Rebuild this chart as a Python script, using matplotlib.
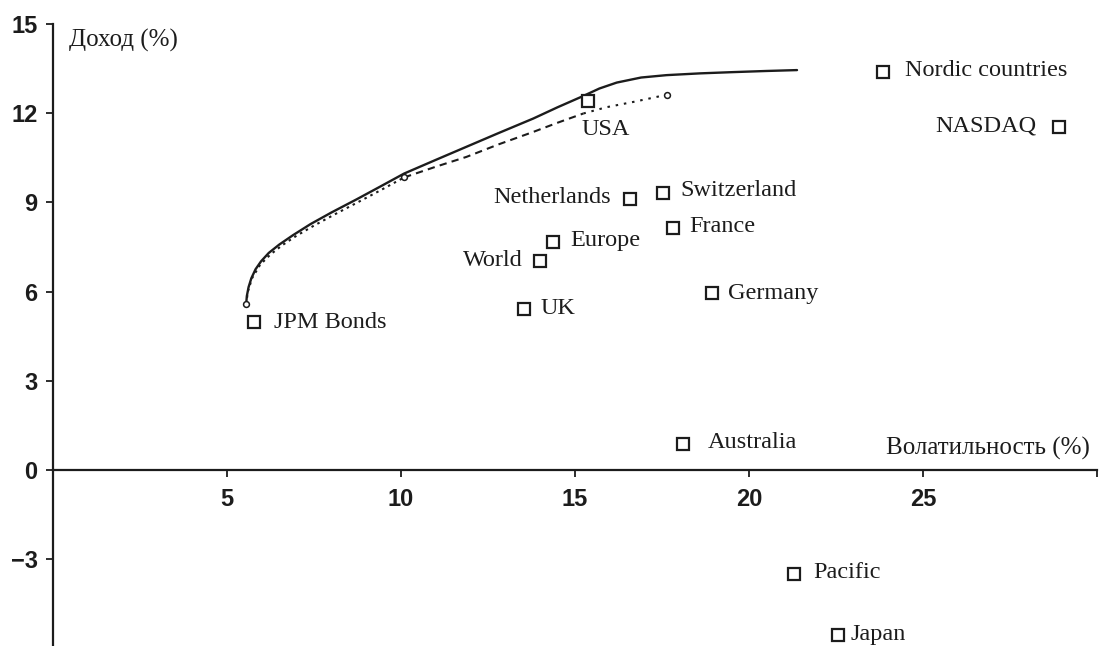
import matplotlib
matplotlib.use("Agg")
import matplotlib.pyplot as plt

# ---- data ----
assets = ["JPM Bonds", "USA", "Netherlands", "Switzerland", "Europe", "World",
          "UK", "France", "Germany", "Nordic countries", "NASDAQ", "Australia",
          "Pacific", "Japan"]
volatility = [5.78, 15.38, 16.58, 17.54, 14.38, 13.99, 13.53, 17.82, 18.93,
              23.86, 28.91, 18.10, 21.30, 22.55]
returns = [4.97, 12.40, 9.12, 9.30, 7.68, 7.03, 5.42, 8.14, 5.94, 13.38,
           11.52, 0.88, -3.50, -5.55]

# efficient frontier (solid)
front_vol = [5.55, 5.57, 5.62, 5.70, 5.82, 5.98, 6.20, 6.50, 6.90, 7.40,
             8.00, 8.72, 9.40, 10.09, 11.00, 11.88, 12.80, 13.80, 14.50,
             15.24, 15.70, 16.20, 16.90, 17.63, 18.60, 19.50, 20.50, 21.38]
front_ret = [5.57, 5.85, 6.15, 6.45, 6.75, 7.02, 7.30, 7.58, 7.90, 8.27,
             8.66, 9.10, 9.53, 9.97, 10.43, 10.87, 11.33, 11.82, 12.20,
             12.58, 12.83, 13.03, 13.20, 13.28, 13.34, 13.38, 13.42, 13.45]

# constrained frontier (dotted / dashed)
con1_vol = [5.55, 5.60, 5.72, 5.95, 6.25, 6.60, 7.00, 7.50, 8.10, 8.72,
            9.40, 10.09]
con1_ret = [5.57, 6.00, 6.45, 6.90, 7.25, 7.57, 7.88, 8.22, 8.60, 8.98,
            9.40, 9.84]
con2_vol = [10.09, 11.00, 11.88, 12.80, 13.80, 14.50, 15.24]
con2_ret = [9.84, 10.20, 10.53, 10.95, 11.37, 11.68, 11.99]
con3_vol = [15.24, 15.90, 16.68, 17.20, 17.63]
con3_ret = [11.99, 12.20, 12.38, 12.51, 12.62]
circle_vol = [5.55, 10.09, 17.63]
circle_ret = [5.57, 9.84, 12.62]

x_ticks = [5, 10, 15, 20, 25, 30]
x_ticklabels = ["5", "10", "15", "20", "25", ""]
y_ticks = [-3, 0, 3, 6, 9, 12, 15]
y_ticklabels = ["\u22123", "0", "3", "6", "9", "12", "15"]

# ---- label placement (offset points, alignment) ----
label_place = {
    "JPM Bonds": (14, 0, "left"),
    "USA": (-5, -20, "left"),
    "Netherlands": (-14, 1, "right"),
    "Switzerland": (12.5, 2, "left"),
    "Europe": (12, 1, "left"),
    "World": (-12, 0, "right"),
    "UK": (12, 0, "left"),
    "France": (11.5, 1, "left"),
    "Germany": (12, 0, "left"),
    "Nordic countries": (15.5, 1, "left"),
    "NASDAQ": (-16, 1, "right"),
    "Australia": (18, 1, "left"),
    "Pacific": (14, 1, "left"),
    "Japan": (9, 0, "left"),
}

ink = "#1c1c1c"
serif = ["Liberation Serif", "DejaVu Serif"]
sans = ["Liberation Sans", "DejaVu Sans"]

fig = plt.figure(figsize=(10.99, 6.46), dpi=100)
ax = fig.add_axes([53 / 1099, 0.0, 1044 / 1099, 1 - 24 / 646])
ax.set_xlim(0, 30)
ax.set_ylim(-5.92, 15)

ax.plot(front_vol, front_ret, color=ink, lw=1.7, solid_capstyle="round",
        solid_joinstyle="round")
ax.plot(con1_vol, con1_ret, color=ink, lw=1.5, linestyle=(0, (1.2, 2.0)))
ax.plot(con2_vol, con2_ret, color=ink, lw=1.5, linestyle=(0, (3.5, 2.5)))
ax.plot(con3_vol, con3_ret, color=ink, lw=1.5, linestyle=(0, (1.2, 2.8)))
ax.plot(circle_vol, circle_ret, linestyle="none", marker="o", ms=4.2,
        mfc="white", mec=ink, mew=1.1, zorder=4)

ax.plot(volatility, returns, linestyle="none", marker="s", ms=9,
        mfc="white", mec=ink, mew=1.6, zorder=5, clip_on=False)

for name, vx, vy in zip(assets, volatility, returns):
    dx, dy, ha = label_place[name]
    ax.annotate(name, (vx, vy), xytext=(dx, dy), textcoords="offset points",
                ha=ha, va="center", fontsize=17.5, family=serif, color=ink,
                annotation_clip=False)

ax.text(0.45, 14.45, "Доход (%)", fontsize=18, family=serif, color=ink,
        ha="left", va="center")
ax.text(29.8, 0.72, "Волатильность (%)", fontsize=18, family=serif, color=ink,
        ha="right", va="center")

for s in ["top", "right"]:
    ax.spines[s].set_visible(False)
ax.spines["bottom"].set_position(("data", 0))
ax.spines["left"].set_position(("data", 0))
for s in ["bottom", "left"]:
    ax.spines[s].set_linewidth(1.6)
    ax.spines[s].set_color(ink)
ax.spines["left"].set_bounds(-5.92, 15)

ax.set_xticks(x_ticks)
ax.set_xticklabels(x_ticklabels)
ax.set_yticks(y_ticks)
ax.set_yticklabels(y_ticklabels)
ax.tick_params(axis="both", direction="out", length=5, width=1.3, colors=ink,
               labelsize=17)
ax.tick_params(axis="x", pad=8)
ax.tick_params(axis="y", pad=6)
for lab in ax.get_xticklabels() + ax.get_yticklabels():
    lab.set_family(sans)
    lab.set_fontweight("bold")

fig.savefig("out.png", dpi=100)
